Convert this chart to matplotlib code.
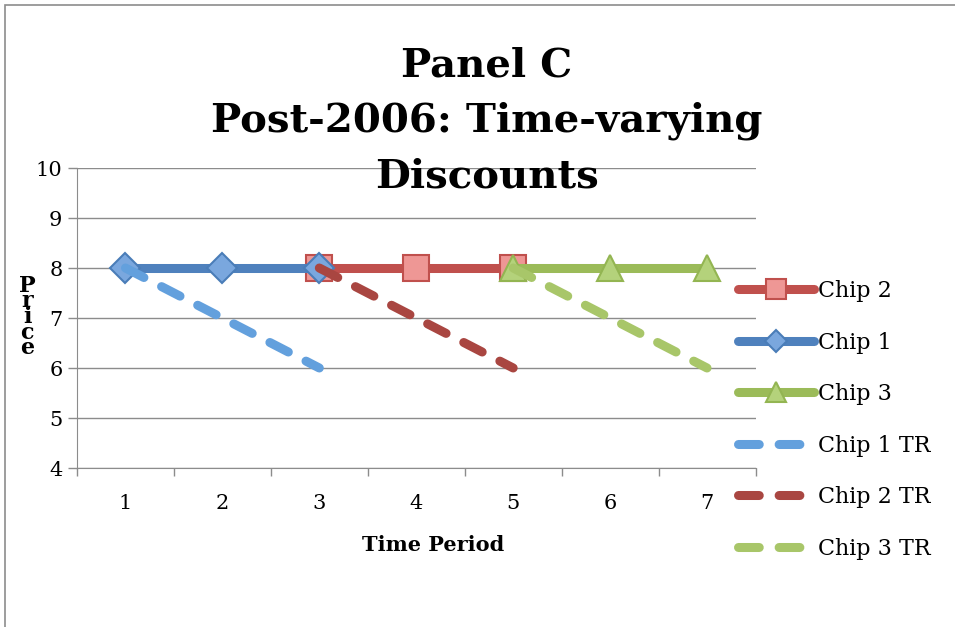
import numpy as np
import matplotlib.pyplot as plt
from matplotlib.patches import Rectangle

plt.rcParams['font.family'] = ['DejaVu Serif']

periods = [1, 2, 3, 4, 5, 6, 7]

chip1_x = [1, 2, 3]
chip1_y = [8, 8, 8]
chip2_x = [3, 4, 5]
chip2_y = [8, 8, 8]
chip3_x = [5, 6, 7]
chip3_y = [8, 8, 8]

chip1_tr_y = [8, 7, 6]
chip2_tr_y = [8, 7, 6]
chip3_tr_y = [8, 7, 6]

fig = plt.figure(figsize=(9.55, 6.27), dpi=100)
ax = fig.add_axes([77 / 955, 1 - 468 / 627, 678.5 / 955, 300 / 627])

# solid price paths
solid_kw = dict(lw=6.5, solid_capstyle='round', markersize=18.5, markeredgewidth=1.5)
ax.plot(chip2_x, chip2_y, color='#C0504D', marker='s', markerfacecolor='#EE9795',
        markeredgecolor='#C0504D', label='Chip 2', zorder=3, **solid_kw)
ax.plot(chip1_x, chip1_y, color='#4F81BD', marker='D', markerfacecolor='#7AA7DE',
        markeredgecolor='#4A7DB8', label='Chip 1', zorder=3,
        **{**solid_kw, 'markersize': 15})
ax.plot(chip3_x, chip3_y, color='#9BBB59', marker='^', markerfacecolor='#B4D27B',
        markeredgecolor='#93B552', label='Chip 3', zorder=3, **solid_kw)

# time-varying discount paths
dash_kw = dict(lw=6.5, dash_capstyle='round', dashes=(2.3, 2.2), zorder=4)
ax.plot(chip1_x, chip1_tr_y, color='#63A0DD', label='Chip 1 TR', **dash_kw)
ax.plot(chip2_x, chip2_tr_y, color='#A94641', label='Chip 2 TR', **dash_kw)
ax.plot(chip3_x, chip3_tr_y, color='#A8C669', label='Chip 3 TR', **dash_kw)

ax.set_xlim(0.5, 7.5)
ax.set_ylim(4, 10)
ax.set_xticks(periods)
ax.set_xticks(np.arange(0.5, 8, 1), minor=True)
ax.set_yticks(range(4, 11))
ax.tick_params(axis='x', which='major', length=0, pad=19, labelsize=15)
ax.tick_params(axis='x', which='minor', length=6, color='#8C8C8C', width=1)
ax.tick_params(axis='y', length=6.5, pad=4, color='#8C8C8C', width=1, labelsize=15)
ax.grid(axis='y', color='#8C8C8C', lw=1)
ax.set_axisbelow(True)
for side in ['top', 'right']:
    ax.spines[side].set_visible(False)
for side in ['left', 'bottom']:
    ax.spines[side].set_color('#8C8C8C')

fig.text(487 / 955, 1 - 121 / 627, 'Panel C\nPost-2006: Time-varying\nDiscounts',
         ha='center', va='center', fontsize=29, fontweight='bold', linespacing=1.57)
fig.text(433 / 955, 1 - 545 / 627, 'Time Period', ha='center', va='center',
         fontsize=15, fontweight='bold')
fig.text(27 / 955, 1 - 317 / 627, 'P\nr\ni\nc\ne', ha='center', va='center',
         fontsize=16, fontweight='bold', linespacing=0.62)

leg = ax.legend(loc='upper left', bbox_to_anchor=(738 / 955, 1 - 280 / 627),
                bbox_transform=fig.transFigure, frameon=False, fontsize=16,
                handlelength=3.4, handletextpad=0.2, labelspacing=1.33,
                borderaxespad=0, borderpad=0, markerscale=0.75)

# outer frame
fig.add_artist(Rectangle((4.5 / 955, -0.1), 1.2, 1.1 - 4.5 / 627, fill=False,
                         edgecolor='#8C8C8C', lw=1.2, transform=fig.transFigure))

fig.savefig('out.png', dpi=100)
